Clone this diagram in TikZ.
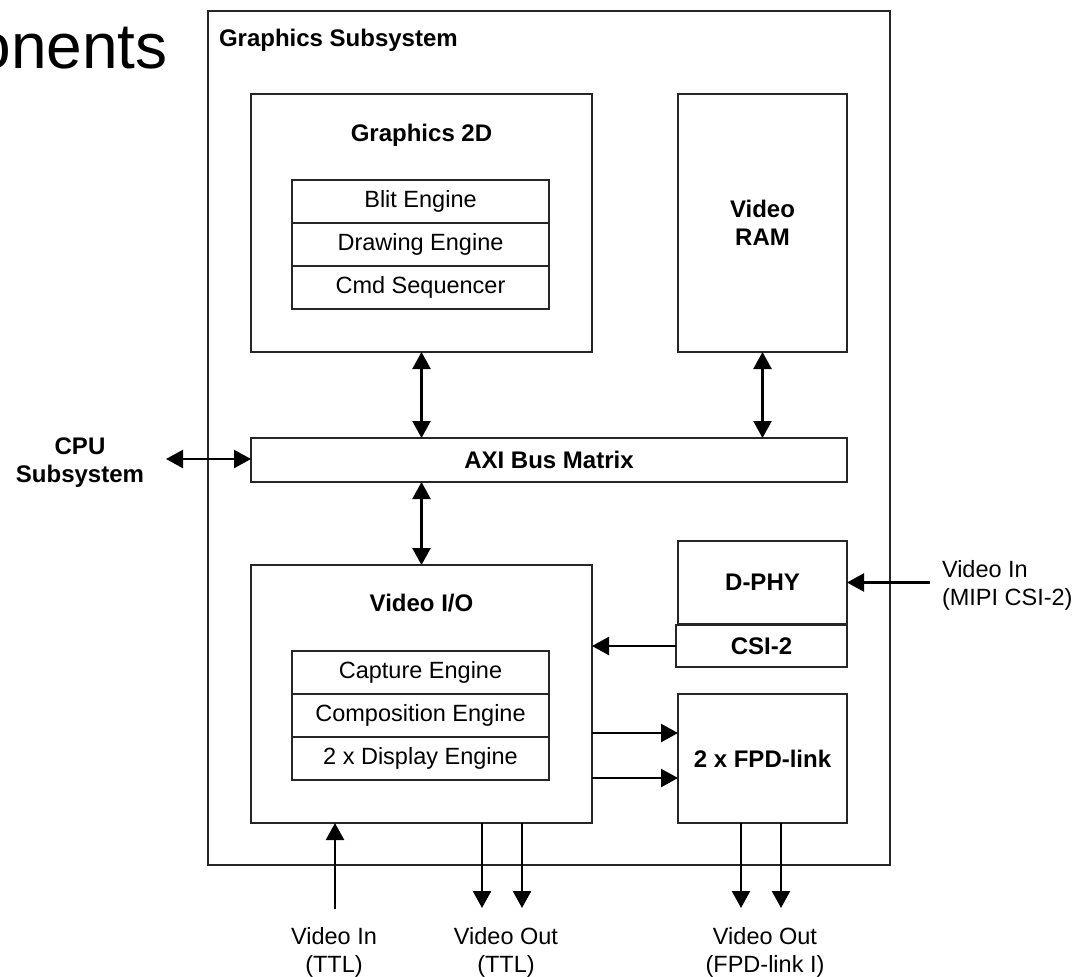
\documentclass[tikz,border=0pt]{standalone}
\usepackage{fontspec}
\setmainfont{Liberation Sans}
\usetikzlibrary{arrows.meta}

\newcommand\diagtxt{\fontsize{23.5}{28}\selectfont}
\newcommand\diagbold{\fontsize{24}{28}\selectfont\bfseries}

\begin{document}
\begin{tikzpicture}[x=1pt,y=-1pt,
  box/.style={draw=black!85, line width=1.4pt, inner sep=0pt, outer sep=0pt, align=center},
  cell/.style={box, minimum width=257pt, minimum height=43pt, font=\diagtxt},
  lbl/.style={inner sep=0pt, outer sep=0pt, font=\diagtxt, align=center},
  blbl/.style={inner sep=0pt, outer sep=0pt, font=\diagbold, align=center},
  arr/.style={line width=2.4pt, -{Triangle[length=17pt,width=18pt]}},
  dbl/.style={line width=2.4pt, {Triangle[length=17pt,width=18pt]}-{Triangle[length=17pt,width=18pt]}},
]
\clip (0,0) rectangle (1079,977);
\fill[white] (0,0) rectangle (1079,977);

% page heading fragment
\node[anchor=base east, inner sep=0pt, font=\fontsize{64}{64}\selectfont] (heading) at (168,68) {onents};

% graphics subsystem frame
\node[box, minimum width=682pt, minimum height=854pt] (gsys) at (549,438) {};
\node[blbl, anchor=base west] (gsystitle) at (219,46) {Graphics Subsystem};

% Graphics 2D block
\node[box, minimum width=341pt, minimum height=258pt] (g2d) at (421.5,223) {};
\node[blbl, anchor=base] (g2dtitle) at (421.5,141) {Graphics 2D};
\node[cell] (blit) at (420.5,201.5) {Blit Engine};
\node[cell] (draweng) at (420.5,244.5) {Drawing Engine};
\node[cell] (cmdseq) at (420.5,287.5) {Cmd Sequencer};

% Video RAM
\node[box, font=\diagbold, minimum width=169pt, minimum height=258pt] (vram) at (762.5,223) {Video\\RAM};

% AXI bus
\node[box, font=\diagbold, minimum width=596pt, minimum height=44pt] (axi) at (549,460) {AXI Bus Matrix};

% CPU side
\node[blbl] (cpu) at (80,463) {CPU\\Subsystem};
\coordinate (cpuend) at (166,459);

% Video I/O block
\node[box, minimum width=341pt, minimum height=258pt] (vio) at (421.5,694) {};
\node[blbl, anchor=base] (viotitle) at (421.5,611) {Video I/O};
\node[cell] (capture) at (420.5,672.5) {Capture Engine};
\node[cell] (compose) at (420.5,715.5) {Composition Engine};
\node[cell] (display) at (420.5,758.5) {2 x Display Engine};

% MIPI input path
\node[box, font=\diagbold, minimum width=169pt, minimum height=83pt] (dphy) at (762.5,582.5) {D-PHY};
\node[box, font=\diagbold, minimum width=171pt, minimum height=42pt] (csi) at (761.5,646) {CSI-2};
\node[lbl, anchor=west, align=left] (mipilbl) at (942,585) {Video In\\(MIPI CSI-2)};
\coordinate (mipiin) at (930,582.5);

% FPD-link transmitters
\node[box, font=\diagbold, minimum width=169pt, minimum height=129pt] (fpd) at (762.5,758.5) {2 x FPD-link};

% external pins
\coordinate (ttlin) at (335,909);
\coordinate (ttlout1) at (482,908);
\coordinate (ttlout2) at (522,908);
\coordinate (fpdout1) at (741,908);
\coordinate (fpdout2) at (781,908);
\node[lbl] (ttlinlbl) at (334,952) {Video In\\(TTL)};
\node[lbl] (ttloutlbl) at (506,952) {Video Out\\(TTL)};
\node[lbl] (fpdoutlbl) at (765,952) {Video Out\\(FPD-link I)};

% bus connections
\draw[dbl] (g2d.south) -- (g2d.south |- axi.north);
\draw[dbl] (vram.south) -- (vram.south |- axi.north);
\draw[dbl] (cpuend) -- (cpuend -| axi.west);
\draw[dbl] (vio.north |- axi.south) -- (vio.north);

% video data paths
\draw[arr] (mipiin) -- (dphy.east);
\draw[arr] (csi.west) -- (csi.west -| vio.east);
\coordinate (vo1) at (vio.east |- 0,733);
\coordinate (vo2) at (vio.east |- 0,778);
\draw[arr] (vo1) -- (vo1 -| fpd.west);
\draw[arr] (vo2) -- (vo2 -| fpd.west);
\draw[arr] (ttlin) -- (ttlin |- vio.south);
\draw[arr] (ttlout1 |- vio.south) -- (ttlout1);
\draw[arr] (ttlout2 |- vio.south) -- (ttlout2);
\draw[arr] (fpdout1 |- fpd.south) -- (fpdout1);
\draw[arr] (fpdout2 |- fpd.south) -- (fpdout2);
\end{tikzpicture}
\end{document}
